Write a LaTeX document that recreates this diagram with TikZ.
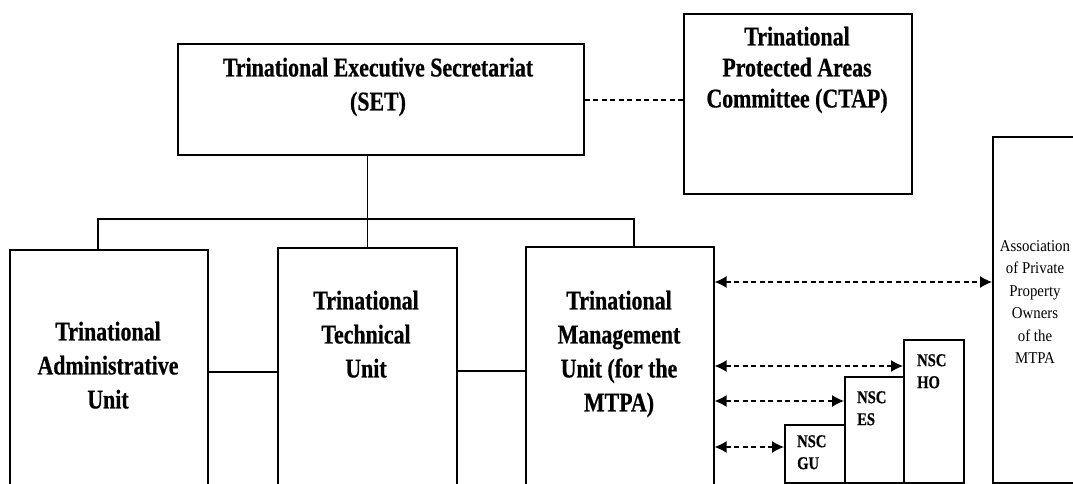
\documentclass[tikz,border=0pt]{standalone}
\usepackage{fontspec}
\setmainfont{Liberation Serif}
\newfontfamily\condfont{Liberation Serif}[FakeStretch=0.81,FakeBold=0.6]
\newfontfamily\assocfont{Liberation Serif}[FakeStretch=0.9]
\usetikzlibrary{arrows.meta}
\tikzset{
  box/.style={draw, line width=1.6pt, inner sep=0pt, anchor=north west},
  big/.style={font=\condfont\bfseries\fontsize{27}{34}\selectfont, align=center, inner sep=0pt, anchor=north},
  nsc/.style={font=\condfont\bfseries\fontsize{18}{22}\selectfont, align=left, inner sep=0pt, anchor=north west},
  assoc/.style={font=\assocfont\fontsize{16.5}{22.5}\selectfont, align=center, inner sep=0pt, anchor=north},
  tree/.style={line width=1.5pt},
  rel/.style={line width=1.3pt, dash pattern=on 5pt off 3.5pt},
  link/.style={rel, {Latex[length=12pt,width=12pt]}-{Latex[length=12pt,width=12pt]}},
}
\begin{document}
\begin{tikzpicture}[x=1pt,y=-1pt]
\clip (0,0) rectangle (1073,484);
\fill[white] (0,0) rectangle (1073,484);
% boxes
\node[box, minimum width=406pt, minimum height=111pt] (set) at (177,43) {};
\node[box, minimum width=228pt, minimum height=180pt] (ctap) at (683,13) {};
\node[box, minimum width=198pt, minimum height=280pt] (adm) at (9,249) {};
\node[box, minimum width=179pt, minimum height=280pt] (tech) at (277,247) {};
\node[box, minimum width=188pt, minimum height=280pt] (mgmt) at (525,246) {};
\node[box, minimum width=100pt, minimum height=346pt] (assoc) at (992,136) {};
\node[box, minimum width=60pt, minimum height=58pt] (gu) at (784,424) {};
\node[box, minimum width=59pt, minimum height=106pt] (es) at (844,376) {};
\node[box, minimum width=60pt, minimum height=143pt] (ho) at (903,339) {};
% texts
\node[big] (tset) at (378,57.5) {Trinational Executive Secretariat\\(SET)};
\node[big, font=\condfont\bfseries\fontsize{27}{31}\selectfont] (tctap) at (797,26.5) {Trinational\\Protected Areas\\Committee (CTAP)};
\node[big] (tadm) at (108,321.5) {Trinational\\Administrative\\Unit};
\node[big] (ttech) at (366,290.5) {Trinational\\Technical\\Unit};
\node[big] (tmgmt) at (619,290.5) {Trinational\\Management\\Unit (for the\\MTPA)};
\node[nsc] (tgu) at (797,435) {NSC\\GU};
\node[nsc] (tes) at (857,391) {NSC\\ES};
\node[nsc] (tho) at (917,354) {NSC\\HO};
\node[assoc] (tassoc) at (1035,240) {Association\\of Private\\Property\\Owners\\of the\\MTPA};
% helper coordinates
\coordinate (bl) at (98,219);
\coordinate (br) at (634,219);
\coordinate (yd) at (0,100);
\coordinate (y1) at (0,372);
\coordinate (y2) at (0,371);
\coordinate (a1) at (0,282);
\coordinate (a2) at (0,366);
\coordinate (a3) at (0,401);
\coordinate (a4) at (0,447);
% tree connectors
\draw[tree] (set.south -| tech.north) -- (tech.north);
\draw[tree] (bl |- adm.north) -- (bl) -- (br) -- (br |- mgmt.north);
\draw[tree] (adm.east |- y1) -- (tech.west |- y1);
\draw[tree] (tech.east |- y2) -- (mgmt.west |- y2);
% dashed relations
\draw[rel] (set.east |- yd) -- (ctap.west |- yd);
\draw[link] (mgmt.east |- a1) -- (assoc.west |- a1);
\draw[link] (mgmt.east |- a2) -- (ho.west |- a2);
\draw[link] (mgmt.east |- a3) -- (es.west |- a3);
\draw[link] (mgmt.east |- a4) -- (gu.west |- a4);
\end{tikzpicture}
\end{document}
